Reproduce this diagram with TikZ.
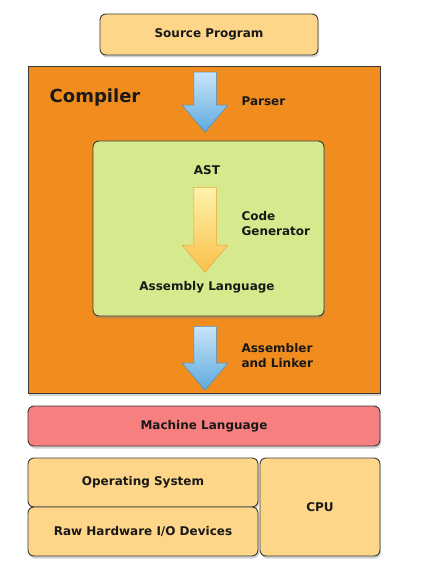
\documentclass[tikz,border=0pt]{standalone}
\usepackage{fontspec}
\setsansfont{DejaVu Sans}
\usepackage{xcolor}
\usetikzlibrary{shapes.arrows,shadows}

\definecolor{boxorange}{HTML}{FDD68A}
\definecolor{comporange}{HTML}{F18D1F}
\definecolor{astgreen}{HTML}{D6E98C}
\definecolor{machpink}{HTML}{F67F7F}
\definecolor{linedark}{HTML}{3A3A3A}
\definecolor{bluetop}{HTML}{C8E5F7}
\definecolor{bluebot}{HTML}{5DAADF}
\definecolor{blueline}{HTML}{4A8FC2}
\definecolor{yellowtop}{HTML}{FFF3AC}
\definecolor{yellowbot}{HTML}{F9C04A}
\definecolor{yellowline}{HTML}{E9A43A}

\begin{document}
\begin{tikzpicture}[x=1pt,y=-1pt,
    txt/.style={font=\sffamily\bfseries\fontsize{12}{15}\selectfont,color=black!90},
    box/.style={txt,draw=linedark,line width=0.9pt,rounded corners=6pt,fill=boxorange,inner sep=0pt,
        drop shadow={shadow xshift=1pt,shadow yshift=-2.5pt,opacity=0.35}},
    bluearrow/.style={single arrow,shape border rotate=270,minimum width=45pt,single arrow head extend=11.5pt,
        single arrow tip angle=80,inner sep=11pt,anchor=tail,
        top color=bluetop,bottom color=bluebot,draw=blueline,line width=0.5pt},
    yellowarrow/.style={bluearrow,top color=yellowtop,bottom color=yellowbot,draw=yellowline}]
    \useasboundingbox (0,0) rectangle (430,580);

    \node (src) at (209,34.5) [box,minimum width=218pt,minimum height=41pt] {Source Program};

    \node (comp) at (204,229.5) [box,rounded corners=0pt,fill=comporange,minimum width=352pt,minimum height=327pt] {};
    \node (comptitle) at (95,98) [txt,font=\sffamily\bfseries\fontsize{18}{20}\selectfont] {Compiler};

    \node (parse) at (205,72) [bluearrow,minimum height=60pt] {};
    \node (parselbl) at (238,101) [txt,anchor=west] {Parser};

    \node (gen) at (208.5,228.5) [box,fill=astgreen,minimum width=231pt,minimum height=175pt,drop shadow={opacity=0}] {};
    \node (ast) at (207,170) [txt] {AST};
    \node (codegen) at (205,187) [yellowarrow,minimum height=85pt] {};
    \node (codegenlbl) at (238,224) [txt,anchor=west,align=left] {Code\\Generator};
    \node (asm) at (207,287) [txt] {Assembly Language};

    \node (link) at (205,326) [bluearrow,minimum height=64pt] {};
    \node (linklbl) at (238,356) [txt,anchor=west,align=left] {Assembler\\and Linker};

    \node (mach) at (204,426) [box,fill=machpink,minimum width=352pt,minimum height=40pt] {Machine Language};

    \node (os) at (143,482.5) [box,minimum width=230pt,minimum height=49pt] {Operating System};
    \node (hw) at (143,531.5) [box,minimum width=230pt,minimum height=49pt] {Raw Hardware I/O Devices};
    \node (cpu) at (320,507) [box,minimum width=120pt,minimum height=98pt] {CPU};
\end{tikzpicture}
\end{document}
